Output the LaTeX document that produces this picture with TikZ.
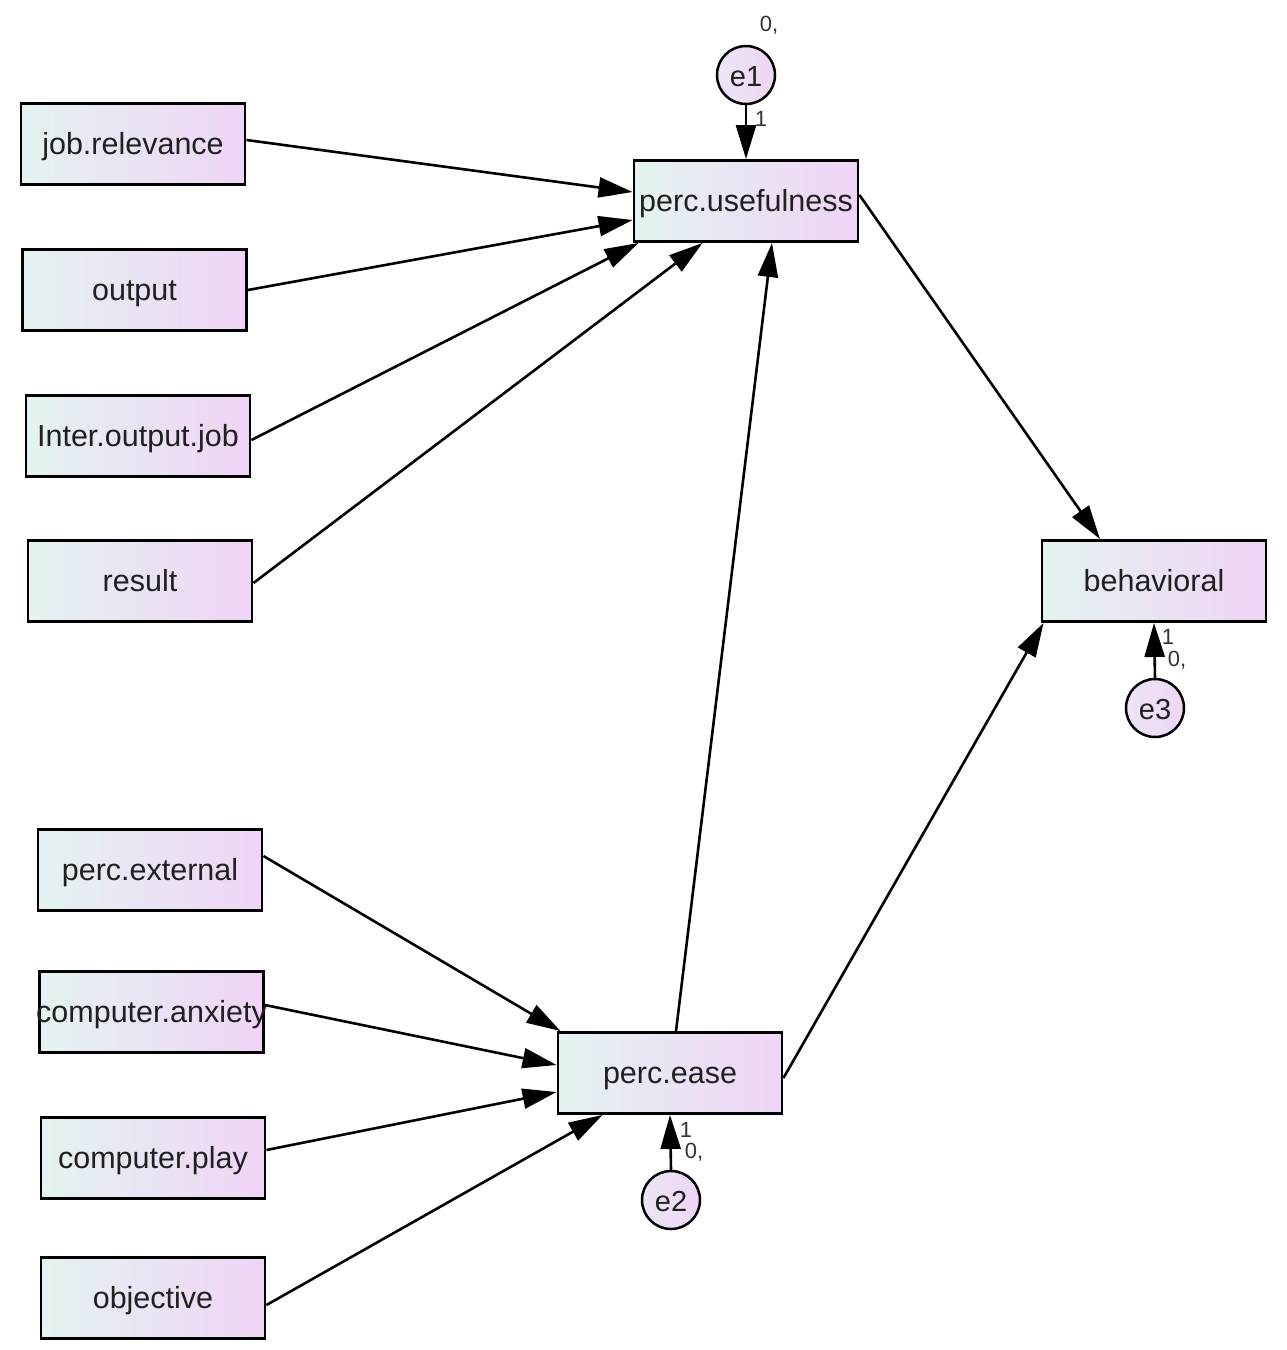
\documentclass[tikz,border=0pt]{standalone}
\usepackage{fontspec}
\setmainfont{Liberation Sans}
\usetikzlibrary{arrows.meta}
\definecolor{boxl}{HTML}{E4F3F1}
\definecolor{boxm}{HTML}{EBE1F4}
\definecolor{boxr}{HTML}{F0D4F6}
\definecolor{errl}{HTML}{ECE6F6}
\definecolor{errr}{HTML}{EED6F4}
\definecolor{labgray}{HTML}{333333}
\definecolor{txt}{HTML}{202020}
\tikzset{
  varbox/.style={draw=black, line width=2.9pt, left color=boxl, middle color=boxm, right color=boxr,
    minimum width=224pt, minimum height=81pt, inner sep=0pt,
    text height=23pt, text depth=1.5pt,
    font=\fontsize{30.5}{30.5}\selectfont, text=txt},
  errnode/.style={circle, draw=black, line width=2.5pt, left color=errl, right color=errr,
    minimum size=58pt, inner sep=0pt, text height=23pt, text depth=1pt,
    font=\fontsize{29}{29}\selectfont, text=txt},
  regpath/.style={line width=2.6pt, -{Triangle[length=34pt,width=20pt]}},
  smalllab/.style={font=\fontsize{22}{22}\selectfont, inner sep=0pt, text=labgray}
}
\begin{document}
\begin{tikzpicture}[x=1pt,y=-1pt]
\useasboundingbox (0,0) rectangle (1287,1350);
\node[varbox] (jr) at (133,144) {job.relevance};
\node[varbox] (out) at (134.5,290) {output};
\node[varbox] (iob) at (138,436) {Inter.output.job};
\node[varbox] (res) at (140,581) {result};
\node[varbox] (pu) at (746,201) {perc.usefulness};
\node[varbox] (beh) at (1154,581) {behavioral};
\node[varbox] (pex) at (150,870) {perc.external};
\node[varbox] (ca) at (151.5,1012) {\makebox[0pt]{computer.anxiety}};
\node[varbox] (cp) at (153,1158) {computer.play};
\node[varbox] (obj) at (153,1298) {objective};
\node[varbox] (pe) at (670,1073) {perc.ease};
\node[errnode] (e1) at (746,75) {e1};
\node[errnode] (e2) at (671,1200) {e2};
\node[errnode] (e3) at (1155,708) {e3};
\node[smalllab] (l1a) at (769,25) {0,};
\node[smalllab] (l1b) at (761,119) {1};
\node[smalllab] (l3a) at (1168,637) {1};
\node[smalllab] (l3b) at (1177,660) {0,};
\node[smalllab] (l2a) at (686,1130) {1};
\node[smalllab] (l2b) at (694,1152) {0,};
\draw[regpath] ([yshift=4pt]jr.east) -- ([yshift=9pt]pu.west);
\draw[regpath] (out.east) -- ([yshift=-19pt]pu.west);
\draw[regpath] ([yshift=-4pt]iob.east) -- ([xshift=6pt]pu.south west);
\draw[regpath] ([yshift=-2pt]res.east) -- ([xshift=70pt]pu.south west);
\draw[regpath] ([xshift=6pt]pe.north) -- ([xshift=26pt]pu.south);
\draw[regpath] ([yshift=6pt]pu.east) -- ([xshift=-54pt]beh.north);
\draw[regpath] ([yshift=-5pt]pe.east) -- ([xshift=3pt]beh.south west);
\draw[regpath] ([yshift=14pt]pex.east) -- ([xshift=4pt]pe.north west);
\draw[regpath] ([yshift=7pt]ca.east) -- ([yshift=8pt]pe.west);
\draw[regpath] ([yshift=8pt]cp.east) -- ([yshift=-19pt]pe.west);
\draw[regpath] ([yshift=-7pt]obj.east) -- ([xshift=46pt]pe.south west);
\draw[regpath] (e1.south) -- (pu.north);
\draw[regpath] (e2.north) -- (pe.south);
\draw[regpath] (e3.north) -- (beh.south);
\end{tikzpicture}
\end{document}
